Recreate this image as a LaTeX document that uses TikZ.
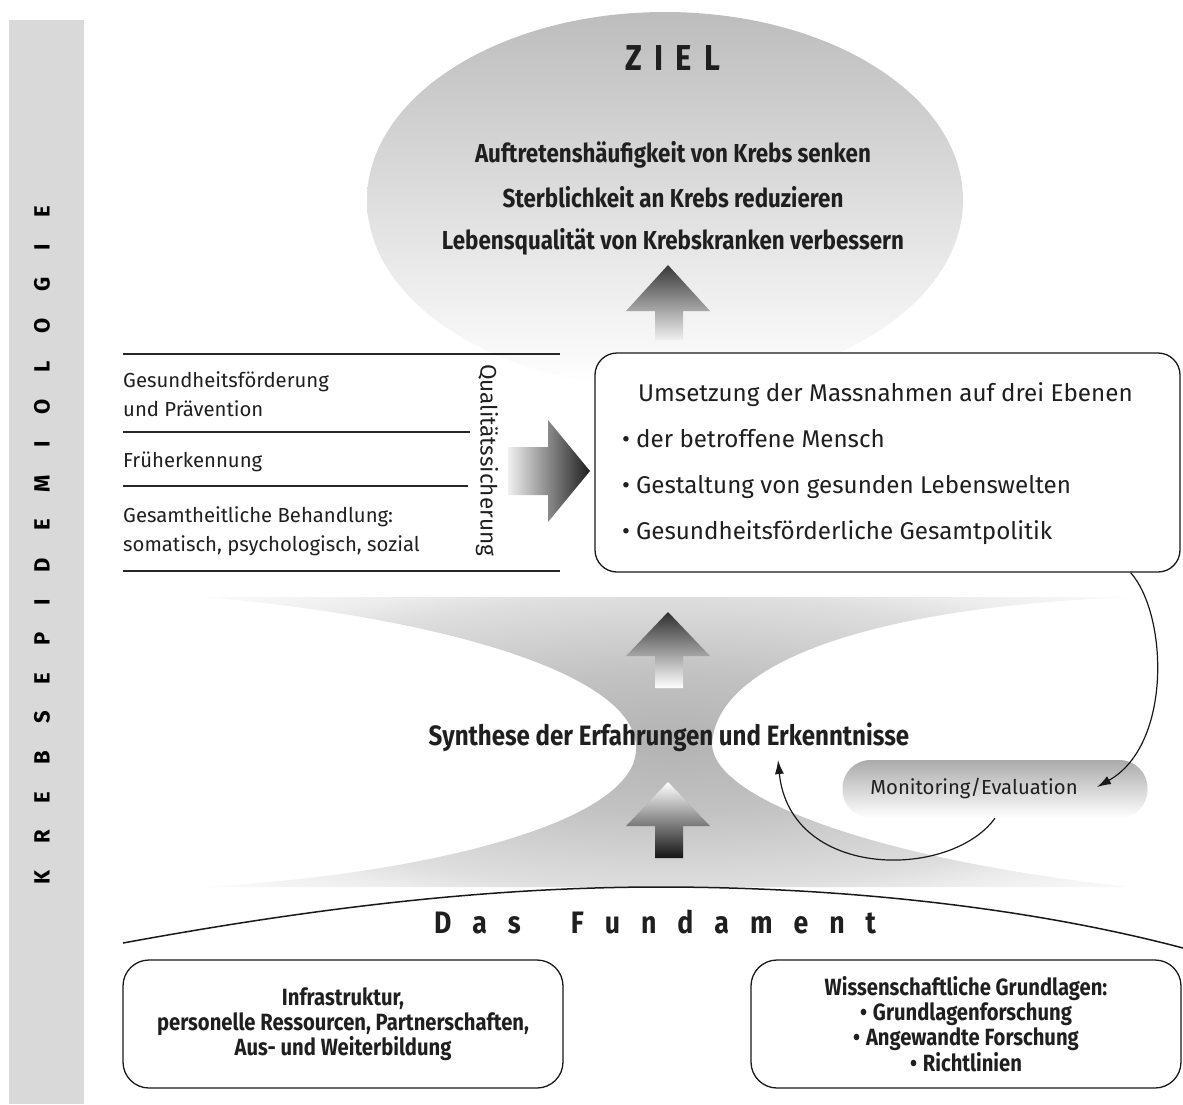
\documentclass[tikz,border=0pt]{standalone}
\usepackage{fontspec}
\setmainfont{Fira Sans}
\newfontfamily\cbf[FakeStretch=0.86]{Fira Sans}
\usetikzlibrary{arrows.meta,shapes.geometric}
\newcommand\bul{•\hspace{0.25em}}
\newcommand\lkb{\kern27pt}
\newcommand\lkz{\kern12pt}
\newcommand\lkf{\kern21pt}
\pgfdeclareradialshading{hgshade}{\pgfpoint{0bp}{0bp}}{color(0bp)=(black!30); color(12bp)=(black!24); color(25bp)=(black!13); color(29bp)=(black!7); color(36bp)=(black!1); color(50bp)=(white)}
\begin{document}
\begin{tikzpicture}[x=1pt,y=-1pt,
  bartext/.style={font=\fontsize{22}{22}\selectfont\bfseries, inner sep=0pt},
  titletext/.style={font=\cbf\fontsize{36}{36}\selectfont\bfseries, inner sep=0pt, text=black!88},
  goaltext/.style={font=\cbf\fontsize{26}{26}\selectfont\bfseries, inner sep=0pt, text=black!88},
  listtext/.style={font=\fontsize{20.3}{29}\selectfont, align=left, inner sep=0pt, anchor=west, text=black!88},
  boxtext/.style={font=\fontsize{24.2}{46}\selectfont, align=left, inner sep=0pt, anchor=west, text=black!88},
  syntext/.style={font=\cbf\fontsize{28}{28}\selectfont\bfseries, inner sep=0pt, text=black!88},
  montext/.style={font=\fontsize{20.3}{20}\selectfont, inner sep=0pt, text=black!88},
  fundtext/.style={font=\cbf\fontsize{31}{31}\selectfont\bfseries, inner sep=0pt, text=black!88},
  roundbox/.style={draw=black!90, line width=1.3pt, rounded corners=22pt, fill=white},
  basebox/.style={draw=black!90, line width=1.3pt, rounded corners=26pt, fill=white,
     font=\cbf\fontsize{23.5}{25.3}\selectfont\bfseries, align=center, text=black!88},
  monshape/.style={rounded corners=28pt, top color=black!33, bottom color=white, minimum width=305pt, minimum height=58pt},
  fbarrow/.style={-{Latex[length=14pt,width=9pt]}, line width=1.2pt, black!90},
  listline/.style={line width=1.3pt, black!85}
]
\useasboundingbox (0,0) rectangle (1183,1104);

% left bar
\fill[black!15] (9,20) rectangle (84,1104);
\node[bartext, rotate=90] (bar) at (42,545)
  {K\lkb R\lkb E\lkb B\lkb S\lkb E\lkb P\lkb I\lkb D\lkb E\lkb M\lkb I\lkb O\lkb L\lkb O\lkb G\lkb I\lkb E};

% goal ellipse
\node[ellipse, minimum width=596pt, minimum height=376pt, top color=black!26, bottom color=white, inner sep=0pt] (zielshape) at (665,200) {};
\node[titletext] (ziel) at (673,58) {Z\lkz I\lkz E\lkz L};
\node[goaltext] (g1) at (673,155) {Auftretenshäufigkeit von Krebs senken};
\node[goaltext] (g2) at (673,197) {Sterblichkeit an Krebs reduzieren};
\node[goaltext] (g3) at (673,242) {Lebensqualität von Krebskranken verbessern};

% top arrow
\shade[top color=black!78, bottom color=black!6]
  (668,265) -- (710,311) -- (683,311) -- (683,340) -- (655,340) -- (655,311) -- (626,311) -- cycle;

% hourglass
\shade[shading=hgshade] (203,597) -- (1140,597)
  .. controls (880,605) and (715,660) .. (712,745)
  .. controls (715,800) and (880,860) .. (1130,887)
  -- (203,887)
  .. controls (430,874) and (634,822) .. (636,750)
  .. controls (640,670) and (420,615) .. (203,597) -- cycle;

% hourglass arrows
\shade[top color=black!82, bottom color=white]
  (668,612) -- (710,656) -- (683,656) -- (683,688) -- (655,688) -- (655,656) -- (626,656) -- cycle;
\shade[top color=white, bottom color=black!92]
  (668,782) -- (710,826) -- (683,826) -- (683,858) -- (655,858) -- (655,826) -- (626,826) -- cycle;

% left list
\draw[listline] (123,354) -- (560,354);
\draw[listline] (123,432) -- (470,432);
\draw[listline] (123,486) -- (468,486);
\draw[listline] (123,571) -- (560,571);
\node[listtext] (l1) at (123,394) {Gesundheitsförderung\\und Prävention};
\node[listtext] (l2) at (123,462) {Früherkennung};
\node[listtext] (l3) at (123,531) {Gesamtheitliche Behandlung:\\somatisch, psychologisch, sozial};
\node[font=\fontsize{22.5}{22.5}\selectfont, inner sep=0pt, rotate=-90, text=black!88] (qs) at (487,460) {Qualitätssicherung};

% right arrow
\shade[left color=black!6, right color=black!88]
  (508,447) -- (548,447) -- (548,420) -- (590,471) -- (548,522) -- (548,495) -- (508,495) -- cycle;

% implementation box
\node[roundbox, minimum width=585pt, minimum height=219pt] (impl) at (887.5,462.5) {};
\node[boxtext] (impltext) at (622,464)
  {\hspace*{16pt}Umsetzung der Massnahmen auf drei Ebenen\\
   \bul der betroffene Mensch\\
   \bul Gestaltung von gesunden Lebenswelten\\
   \bul Gesundheitsförderliche Gesamtpolitik};

% synthesis
\node[syntext] (syn) at (669,737) {Synthese der Erfahrungen und Erkenntnisse};

% monitoring
\node[monshape] (mon) at (995,789) {};
\node[montext] (montxt) at (974,788) {Monitoring/Evaluation};
\coordinate (c1s) at ([xshift=-50pt]impl.south east);
\coordinate (c1e) at (1097,787);
\coordinate (c2e) at (778,760);
\draw[fbarrow] (c1s) .. controls (1168,615) and (1172,745) .. (c1e);
\draw[fbarrow] (mon.south) .. controls (950,880) and (790,880) .. (c2e);

% foundation
\draw[line width=1.5pt, black!90] (123,943) .. controls (330,905) and (500,887) .. (660,887)
  .. controls (830,887) and (1020,905) .. (1183,948);
\node[fundtext] (fund) at (655,922) {D\lkf a\lkf s\kern50pt F\lkf u\lkf n\lkf d\lkf a\lkf m\lkf e\lkf n\lkf t};

\node[basebox, minimum width=440pt, minimum height=128pt] (infra) at (343,1024)
  {Infrastruktur,\\personelle Ressourcen, Partnerschaften,\\Aus- und Weiterbildung};
\node[basebox, minimum width=430pt, minimum height=128pt] (wiss) at (966,1024)
  {Wissenschaftliche Grundlagen:\\\bul Grundlagenforschung\\\bul Angewandte Forschung\\\bul Richtlinien};
\end{tikzpicture}
\end{document}
